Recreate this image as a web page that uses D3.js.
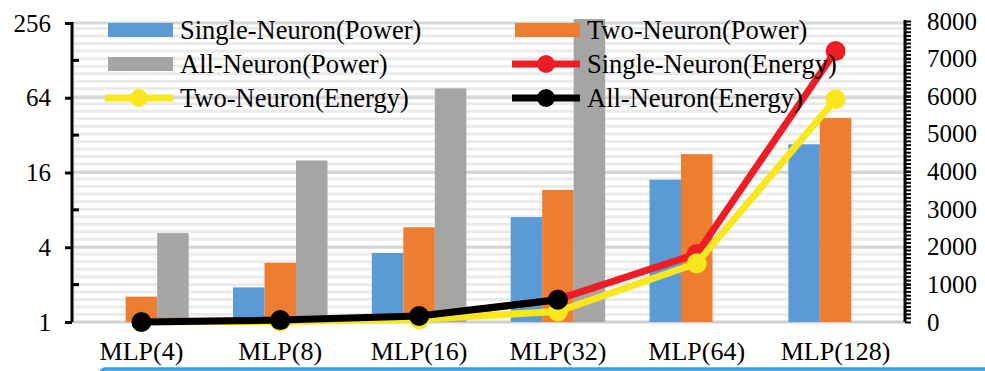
<!DOCTYPE html>
<html><head><meta charset="utf-8">
<script src="https://cdn.jsdelivr.net/npm/d3@7"></script>
<style>html,body{margin:0;padding:0;background:#fff;overflow:hidden} svg text{font-family:"Liberation Serif","Times New Roman",Times,serif;}</style>
</head><body>
<svg id="c" width="985" height="371"></svg>
<script>
const categories = ["MLP(4)","MLP(8)","MLP(16)","MLP(32)","MLP(64)","MLP(128)"];
const singlePower = [1, 1.9, 3.6, 7.0, 14, 27];
const twoPower = [1.6, 3.0, 5.8, 11.6, 22.5, 44];
const allPower = [5.2, 20, 76, 300, null, null];
const singleEnergy = [10, 30, 130, 600, 1810, 7200];
const twoEnergy = [5, 15, 70, 280, 1560, 5920];
const allEnergy = [0, 50, 160, 590, null, null];
const leftTicks = [1, 4, 16, 64, 256];
const leftMinor = [2, 8, 32, 128];
const rightTicks = [0,1000,2000,3000,4000,5000,6000,7000,8000];

const svg = d3.select("#c");
const L = 72, R = 905, B = 322, T = 22;

const x = d3.scaleBand().domain(categories).range([L, R]);
const barW = 31.5;
const xs = d3.scaleBand().domain([0,1,2]).range([(x.bandwidth()-3*barW)/2, (x.bandwidth()+3*barW)/2]);
const yL = d3.scaleLog().base(4).domain([1, 256]).range([B, 23]);
const yR = d3.scaleLinear().domain([0, 8000]).range([B, 21]);

// minor gridlines (stripes)
const minorG = d3.range(200, 8000, 200);
svg.append("g").selectAll("line").data(minorG).join("line")
  .attr("x1", L).attr("x2", R).attr("y1", d=>yR(d)).attr("y2", d=>yR(d))
  .attr("stroke", "#ebebeb").attr("stroke-width", 3);
// major gridlines
svg.append("g").selectAll("line").data(leftTicks.slice(1)).join("line")
  .attr("x1", L).attr("x2", R).attr("y1", d=>yL(d)).attr("y2", d=>yL(d))
  .attr("stroke", "#d6d6d6").attr("stroke-width", 3);
// x axis line
svg.append("line").attr("x1", L).attr("x2", R).attr("y1", B).attr("y2", B)
  .attr("stroke", "#d0d0d0").attr("stroke-width", 3);

// clip
svg.append("clipPath").attr("id","pc").append("rect").attr("x",L).attr("y",19).attr("width",R-L).attr("height",B-19);

const barSeries = [
  {vals: singlePower, color: "#5b9bd5"},
  {vals: twoPower, color: "#ed7d31"},
  {vals: allPower, color: "#a5a5a5"}
];
const bars = svg.append("g").attr("clip-path","url(#pc)");
barSeries.forEach((s, i) => {
  bars.append("g").selectAll("rect")
    .data(categories.map((c, j) => ({c, v: s.vals[j]})).filter(d => d.v != null))
    .join("rect")
    .attr("x", d => x(d.c) + xs(i))
    .attr("width", barW)
    .attr("y", d => yL(d.v))
    .attr("height", d => B - yL(d.v))
    .attr("fill", s.color);
});

// lines
const lineSeries = [
  {vals: singleEnergy, color: "#ee1c24"},
  {vals: twoEnergy, color: "#f8e71c"},
  {vals: allEnergy, color: "#000000"}
];
const cx = c => x(c) + x.bandwidth()/2;
lineSeries.forEach(s => {
  const pts = categories.map((c, j) => ({c, v: s.vals[j]})).filter(d => d.v != null);
  const g = svg.append("g");
  g.append("path").datum(pts)
    .attr("d", d3.line().x(d => cx(d.c)).y(d => yR(d.v)))
    .attr("fill", "none").attr("stroke", s.color).attr("stroke-width", 7).attr("stroke-linejoin","round");
  g.selectAll("circle").data(pts).join("circle")
    .attr("cx", d => cx(d.c)).attr("cy", d => yR(d.v)).attr("r", 10).attr("fill", s.color);
});

// left axis
const la = svg.append("g").attr("transform", `translate(${L},0)`)
  .call(d3.axisLeft(yL).tickValues(leftTicks).tickFormat(d3.format("d")).tickSize(7).tickPadding(14));
la.select(".domain").attr("stroke","#000").attr("stroke-width",3).attr("d", `M0,${B}V${T}`);
la.selectAll(".tick line").attr("stroke","#000").attr("stroke-width",3);
la.selectAll(".tick text").attr("font-size", 25).attr("fill","#000");
svg.append("g").selectAll("line").data(leftMinor).join("line")
  .attr("x1", L).attr("x2", L+7).attr("y1", d=>yL(d)).attr("y2", d=>yL(d))
  .attr("stroke","#000").attr("stroke-width",3);

// right axis
const ra = svg.append("g").attr("transform", `translate(${R},0)`)
  .call(d3.axisRight(yR).tickValues(rightTicks).tickFormat(d3.format("d")).tickSize(6).tickPadding(16));
ra.select(".domain").attr("stroke","#000").attr("stroke-width",3).attr("d", `M0,${B}V${20}`);
ra.selectAll(".tick line").attr("stroke","#000").attr("stroke-width",2);
ra.selectAll(".tick text").attr("font-size", 25).attr("fill","#000");
svg.append("g").selectAll("line").data(d3.range(100, 8000, 100)).join("line")
  .attr("x1", R).attr("x2", R+6).attr("y1", d=>yR(d)).attr("y2", d=>yR(d))
  .attr("stroke","#000").attr("stroke-width",2);

// x labels
svg.append("g").selectAll("text").data(categories).join("text")
  .attr("x", d => cx(d)).attr("y", 360).attr("text-anchor","middle")
  .attr("font-size", 26).attr("fill","#000").text(d => d);

// legend
const legendItems = [
  {name:"Single-Neuron(Power)", color:"#5b9bd5", type:"bar", col:0, row:0},
  {name:"Two-Neuron(Power)", color:"#ed7d31", type:"bar", col:1, row:0},
  {name:"All-Neuron(Power)", color:"#a5a5a5", type:"bar", col:0, row:1},
  {name:"Single-Neuron(Energy)", color:"#ee1c24", type:"line", col:1, row:1},
  {name:"Two-Neuron(Energy)", color:"#f8e71c", type:"line", col:0, row:2},
  {name:"All-Neuron(Energy)", color:"#000000", type:"line", col:1, row:2}
];
const colX = [108, 515], rowY = [30, 64, 98];
const lg = svg.append("g");
legendItems.forEach(it => {
  const x0 = colX[it.col], y0 = rowY[it.row];
  if (it.type === "bar") {
    lg.append("rect").attr("x", x0).attr("y", y0-7).attr("width", 65).attr("height", 14).attr("fill", it.color);
  } else {
    lg.append("line").attr("x1", x0-3).attr("x2", x0+65).attr("y1", y0).attr("y2", y0)
      .attr("stroke", it.color).attr("stroke-width", 7);
    lg.append("circle").attr("cx", x0+31).attr("cy", y0).attr("r", 9).attr("fill", it.color);
  }
  lg.append("text").attr("x", x0+72).attr("y", y0).attr("dy","0.33em")
    .attr("font-size", 26.5).attr("fill","#000").text(it.name);
});

// bottom box edge
svg.append("rect").attr("x", 101).attr("y", 369).attr("width", 1000).attr("height", 30).attr("rx", 4)
  .attr("fill","none").attr("stroke","#3aa0e3").attr("stroke-width",3.5);
</script>
</body></html>
